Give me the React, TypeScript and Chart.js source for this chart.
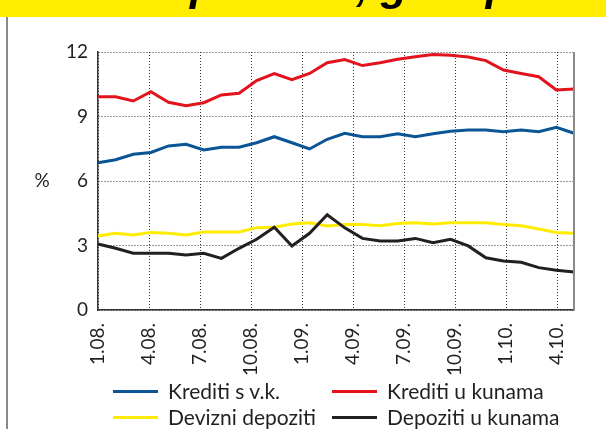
import React, { useEffect, useRef } from "react";
import { Chart, registerables } from "chart.js";

Chart.register(...registerables);

// ---------- data ----------
const dates = [
  "1.08.", "2.08.", "3.08.", "4.08.", "5.08.", "6.08.", "7.08.", "8.08.", "9.08.", "10.08.", "11.08.", "12.08.",
  "1.09.", "2.09.", "3.09.", "4.09.", "5.09.", "6.09.", "7.09.", "8.09.", "9.09.", "10.09.", "11.09.", "12.09.",
  "1.10.", "2.10.", "3.10.", "4.10.",
];

const tickLabels = ["1.08.", "4.08.", "7.08.", "10.08.", "1.09.", "4.09.", "7.09.", "10.09.", "1.10.", "4.10."];

const yTicks = [0, 3, 6, 9, 12];
const yTitle = "%";

const seriesNames = ["Krediti s v.k.", "Krediti u kunama", "Devizni depoziti", "Depoziti u kunama"];

const kreditiSvk = [
  6.85, 6.99, 7.24, 7.33, 7.63, 7.71, 7.44, 7.57, 7.57, 7.78, 8.06, 7.78, 7.49, 7.94,
  8.22, 8.06, 8.06, 8.2, 8.06, 8.2, 8.31, 8.37, 8.37, 8.29, 8.37, 8.29, 8.5, 8.22,
];
const kreditiKune = [
  9.92, 9.92, 9.72, 10.15, 9.66, 9.5, 9.64, 10.0, 10.08, 10.67, 11.0, 10.71, 11.0, 11.5,
  11.65, 11.37, 11.5, 11.66, 11.78, 11.88, 11.85, 11.77, 11.6, 11.16, 11.0, 10.85, 10.23, 10.28,
];
const devizniDepoziti = [
  3.44, 3.57, 3.49, 3.61, 3.57, 3.49, 3.63, 3.63, 3.63, 3.83, 3.85, 4.0, 4.06, 3.91,
  3.98, 3.98, 3.92, 4.02, 4.06, 4.0, 4.06, 4.06, 4.06, 3.98, 3.92, 3.77, 3.61, 3.57,
];
const depozitiKune = [
  3.07, 2.87, 2.64, 2.64, 2.64, 2.56, 2.64, 2.4, 2.87, 3.29, 3.85, 2.98, 3.57, 4.43,
  3.82, 3.33, 3.21, 3.21, 3.33, 3.13, 3.29, 2.98, 2.43, 2.28, 2.22, 1.97, 1.85, 1.77,
];

const titleText = "Kamatne stope u RH, god. postotak";

// ---------- style ----------
const COLORS = ["#0b5596", "#e3131e", "#ffec00", "#231f20"];
const BANNER = "#ffec00";
const TEXT = "#231f20";
const FONT = "Lato";

const framePlugin = {
  id: "frame",
  beforeDraw(chart: any) {
    const { ctx } = chart;
    ctx.save();
    ctx.fillStyle = BANNER;
    ctx.fillRect(0, 0, chart.width, 17);
    ctx.beginPath();
    ctx.rect(0, 0, chart.width, 17);
    ctx.clip();
    ctx.fillStyle = "#000";
    ctx.font = "italic bold 44px 'Liberation Sans'";
    ctx.textAlign = "left";
    ctx.textBaseline = "alphabetic";
    ctx.fillText(titleText, -74, -0.5);
    ctx.restore();
  },
  afterDraw(chart: any) {
    const { ctx, chartArea: a } = chart;
    ctx.save();
    ctx.strokeStyle = "#8a8a8a";
    ctx.lineWidth = 2;
    ctx.beginPath();
    ctx.moveTo(a.right, a.top);
    ctx.lineTo(a.right, a.bottom);
    ctx.stroke();
    ctx.fillStyle = TEXT;
    ctx.font = `19px ${FONT}`;
    ctx.textAlign = "center";
    ctx.textBaseline = "middle";
    ctx.fillText(yTitle, 42, (a.top + a.bottom) / 2);
    ctx.restore();
  },
};

export default function App() {
  const canvasRef = useRef<HTMLCanvasElement | null>(null);

  useEffect(() => {
    const canvas = canvasRef.current;
    if (!canvas) return;
    const series = [kreditiSvk, kreditiKune, devizniDepoziti, depozitiKune];
    const tickPositions = tickLabels.map((l) => dates.indexOf(l));
    const chart = new Chart(canvas, {
      type: "line",
      data: {
        labels: dates,
        datasets: series.map((d, i) => ({
          label: seriesNames[i],
          data: d,
          borderColor: COLORS[i],
          backgroundColor: COLORS[i],
          borderWidth: 3,
          pointRadius: 0,
          tension: 0,
          fill: false,
          order: i === 3 ? 0 : 1,
          xAxisID: "x",
          yAxisID: "y",
        })),
      },
      options: {
        animation: false,
        responsive: false,
        layout: { padding: { top: 52, right: 32, left: 0, bottom: 0 } },
        plugins: { legend: { display: false }, tooltip: { enabled: false } },
        scales: {
          x: { type: "category", display: false, offset: false },
          xt: {
            type: "linear",
            position: "bottom",
            min: 0,
            max: dates.length,
            afterBuildTicks: (scale: any) => {
              scale.ticks = tickPositions.map((v) => ({ value: v }));
            },
            afterFit: (scale: any) => {
              scale.height = 119;
            },
            ticks: {
              autoSkip: false,
              maxRotation: 90,
              minRotation: 90,
              padding: 13,
              color: TEXT,
              font: { family: FONT, size: 19 },
              callback: (v: any) => dates[v] ?? "",
            },
            grid: { display: true, drawTicks: false, color: "#333", lineWidth: 1 },
            border: { display: true, color: "#333", width: 1.5, dash: [1, 2] },
          },
          y: {
            min: 0,
            max: 12,
            afterBuildTicks: (scale: any) => {
              scale.ticks = yTicks.map((v) => ({ value: v }));
            },
            afterFit: (scale: any) => {
              scale.width = 98;
            },
            ticks: {
              padding: 10,
              color: TEXT,
              font: { family: FONT, size: 19 },
            },
            grid: { display: true, drawTicks: false, color: "#333", lineWidth: 1 },
            border: { display: true, color: "#333", width: 1.5, dash: [1, 2] },
          },
        },
      },
      plugins: [framePlugin],
    } as any);
    return () => chart.destroy();
  }, []);

  const legendStyle: React.CSSProperties = {
    position: "absolute",
    left: 113,
    top: 378,
    display: "grid",
    gridTemplateColumns: "219px auto",
    gridAutoRows: "26px",
    fontFamily: FONT,
    fontSize: 21,
    lineHeight: "26px",
    color: TEXT,
    whiteSpace: "nowrap",
  };

  return (
    <div style={{ position: "absolute", left: 0, top: 0, width: 606, height: 429, background: "#fff", overflow: "hidden" }}>
      <div style={{ position: "absolute", left: 6, top: 17, width: 2, bottom: 0, background: "#8a8a8a" }} />
      <canvas ref={canvasRef} width={606} height={429} style={{ position: "absolute", left: 0, top: 0, display: "block" }} />
      <div style={legendStyle}>
        {seriesNames.map((name, i) => (
          <div key={name} style={{ display: "flex", alignItems: "center" }}>
            <span style={{ display: "inline-block", width: 45, height: 3, background: COLORS[i], marginRight: 10 }} />
            <span>{name}</span>
          </div>
        ))}
      </div>
    </div>
  );
}
